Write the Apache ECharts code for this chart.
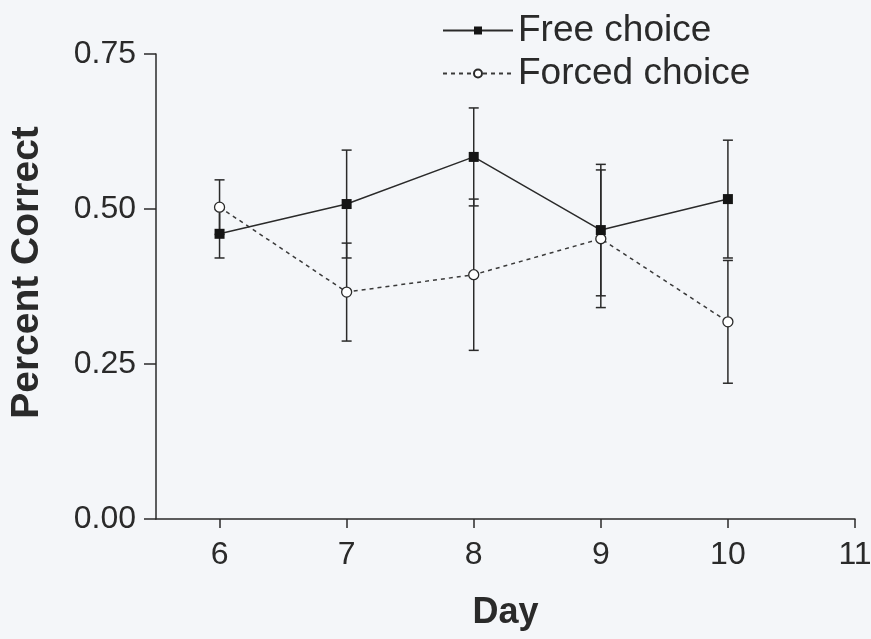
<!DOCTYPE html>
<html>
<head>
<meta charset="utf-8">
<script src="https://cdn.jsdelivr.net/npm/echarts@6/dist/echarts.min.js"></script>
<style>
  html, body { margin: 0; padding: 0; background: #f4f6f9; }
  #chart { width: 871px; height: 639px; }
</style>
</head>
<body>
<div id="chart"></div>
<script>
// values
const days = [6, 7, 8, 9, 10];
const xTicks = [6, 7, 8, 9, 10, 11];
const freeMean = [0.46, 0.508, 0.584, 0.466, 0.516];
const freeErr = [0.039, 0.087, 0.079, 0.106, 0.095];
const forcedMean = [0.503, 0.366, 0.394, 0.452, 0.318];
const forcedErr = [0.044, 0.079, 0.122, 0.111, 0.099];

const ink = "#2a2a2a";
const font = "'Liberation Sans', Arial, sans-serif";

function points(mean) {
  return days.map((d, i) => [d, mean[i]]);
}

function bars(mean, err) {
  return days.map((d, i) => [d, mean[i] - err[i], mean[i] + err[i]]);
}

function renderErrorBar(params, api) {
  const x = api.value(0);
  const lo = api.coord([x, api.value(1)]);
  const hi = api.coord([x, api.value(2)]);
  const hw = 5;
  const style = { stroke: ink, lineWidth: 1.5 };
  return {
    type: "group",
    children: [
      { type: "line", shape: { x1: hi[0], y1: hi[1], x2: lo[0], y2: lo[1] }, style },
      { type: "line", shape: { x1: hi[0] - hw, y1: hi[1], x2: hi[0] + hw, y2: hi[1] }, style },
      { type: "line", shape: { x1: lo[0] - hw, y1: lo[1], x2: lo[0] + hw, y2: lo[1] }, style }
    ]
  };
}

const chart = echarts.init(document.getElementById("chart"));

chart.setOption({
  backgroundColor: "#f4f6f9",
  animation: false,
  textStyle: { fontFamily: font, color: ink },
  grid: { left: 156, right: 16, top: 54, bottom: 120, outerBoundsMode: "none" },
  legend: {
    data: ["Free choice", "Forced choice"],
    orient: "vertical",
    left: 442,
    top: 12,
    padding: 0,
    itemWidth: 70,
    itemHeight: 10,
    itemGap: 6,
    textStyle: { fontSize: 37, color: ink, fontFamily: font }
  },
  xAxis: {
    type: "value",
    min: 5.5,
    max: 11,
    name: "Day",
    nameLocation: "middle",
    nameGap: 76,
    nameTextStyle: { fontSize: 36, fontWeight: "bold", color: ink },
    axisLine: { onZero: false, lineStyle: { color: ink, width: 1.5 } },
    axisTick: { show: true, length: 9, customValues: xTicks, lineStyle: { color: ink, width: 1.5 } },
    axisLabel: { customValues: xTicks, fontSize: 32, color: ink, margin: 20 },
    splitLine: { show: false }
  },
  yAxis: {
    type: "value",
    min: 0,
    max: 0.75,
    interval: 0.25,
    name: "Percent Correct",
    nameLocation: "middle",
    nameGap: 109,
    nameRotate: 90,
    nameTextStyle: { fontSize: 39, fontWeight: "bold", color: ink, padding: [0, 0, 0, 28] },
    axisLine: { show: true, lineStyle: { color: ink, width: 1.5 } },
    axisTick: { show: true, length: 12, lineStyle: { color: ink, width: 1.5 } },
    axisLabel: { fontSize: 32, color: ink, margin: 20, formatter: (v) => v.toFixed(2) },
    splitLine: { show: false }
  },
  series: [
    {
      name: "Free choice err",
      type: "custom",
      renderItem: renderErrorBar,
      encode: { x: 0, y: [1, 2] },
      data: bars(freeMean, freeErr),
      z: 1
    },
    {
      name: "Forced choice err",
      type: "custom",
      renderItem: renderErrorBar,
      encode: { x: 0, y: [1, 2] },
      data: bars(forcedMean, forcedErr),
      z: 1
    },
    {
      name: "Free choice",
      type: "line",
      data: points(freeMean),
      symbol: "rect",
      symbolSize: 10,
      itemStyle: { color: "#151515" },
      lineStyle: { color: ink, width: 1.5 },
      z: 3
    },
    {
      name: "Forced choice",
      type: "line",
      data: points(forcedMean),
      symbol: "circle",
      symbolSize: 10,
      itemStyle: { color: "#ffffff", borderColor: ink, borderWidth: 1.3 },
      lineStyle: { color: "#3a3a3a", width: 1.5, type: [4, 4] },
      z: 2
    }
  ]
});
</script>
</body>
</html>
